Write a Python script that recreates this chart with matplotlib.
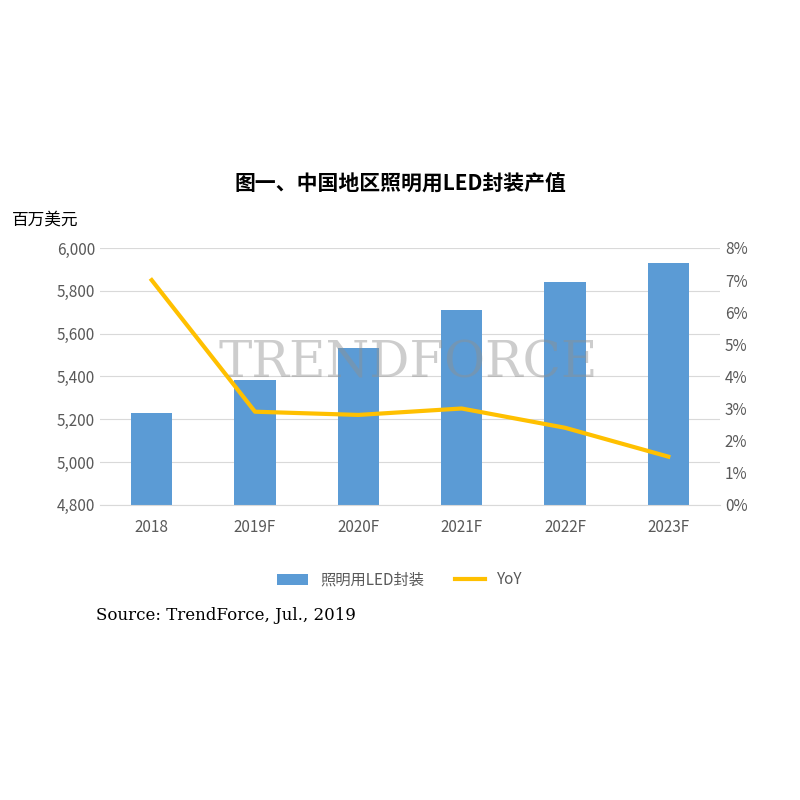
import matplotlib
matplotlib.use('Agg')
import matplotlib.pyplot as plt
from matplotlib.ticker import FuncFormatter, MultipleLocator

plt.rcParams['font.family'] = ['Noto Sans CJK SC', 'DejaVu Sans']

categories = ['2018', '2019F', '2020F', '2021F', '2022F', '2023F']
values = [5230, 5385, 5535, 5708, 5840, 5930]
yoy = [7.0, 2.9, 2.8, 3.0, 2.4, 1.5]

fig = plt.figure(figsize=(8, 8), dpi=100)
ax = fig.add_axes([0.125, 0.369, 0.775, 0.321])
x = range(len(categories))
ax.bar(x, values, width=0.4, color='#5b9bd5', zorder=2, label='照明用LED封装')
ax.set_ylim(4800, 6000)
ax.yaxis.set_major_locator(MultipleLocator(200))
ax.yaxis.set_major_formatter(FuncFormatter(lambda v, p: f'{int(v):,}'))
ax.grid(axis='y', color='#d9d9d9', lw=0.8, zorder=0)
for s in ['top', 'right', 'left']:
    ax.spines[s].set_visible(False)
ax.spines['bottom'].set_color('#d9d9d9')
ax.tick_params(length=0, labelsize=11, colors='#595959')
ax.tick_params(axis='x', pad=10)
ax.set_xticks(list(x))
ax.set_xticklabels(categories)
ax.set_xlim(-0.5, 5.5)

ax2 = ax.twinx()
ax2.plot(x, yoy, color='#ffc000', lw=3, zorder=3, label='YoY')
ax2.set_ylim(0, 8)
ax2.yaxis.set_major_locator(MultipleLocator(1))
ax2.yaxis.set_major_formatter(FuncFormatter(lambda v, p: f'{int(v)}%'))
for s in ['top', 'right', 'left', 'bottom']:
    ax2.spines[s].set_visible(False)
ax2.tick_params(length=0, labelsize=11, colors='#595959')

fig.text(0.51, 0.545, 'TRENDFORCE', fontsize=36, color='#909090', alpha=0.45,
         ha='center', va='center', family='DejaVu Serif', zorder=0)

fig.text(0.5, 0.77, '图一、中国地区照明用LED封装产值', ha='center', va='center',
         fontsize=15, fontweight='bold')
fig.text(0.015, 0.725, '百万美元', fontsize=12, va='center')

h1, l1 = ax.get_legend_handles_labels()
h2, l2 = ax2.get_legend_handles_labels()
fig.legend(h1 + h2, l1 + l2, loc='center', bbox_to_anchor=(0.5, 0.275), ncol=2,
           frameon=False, fontsize=11, labelcolor='#595959')
fig.text(0.12, 0.23, 'Source: TrendForce, Jul., 2019', fontsize=12, va='center',
         family='DejaVu Serif')

fig.savefig('out.png')
